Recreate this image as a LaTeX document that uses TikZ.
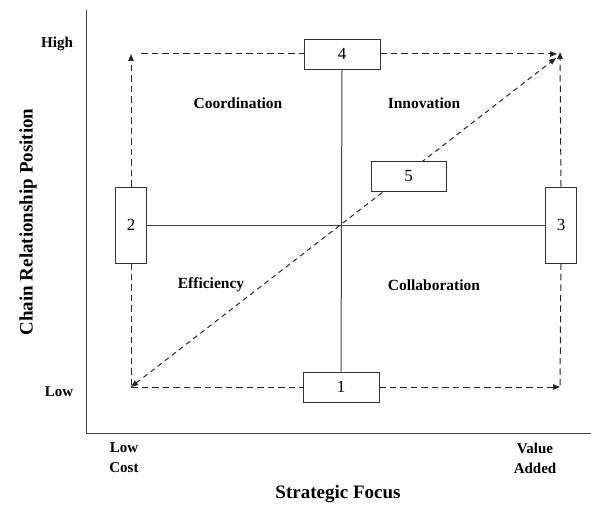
\documentclass[tikz,border=0pt]{standalone}
\usepackage{fontspec}
\setmainfont{Liberation Serif}
\usetikzlibrary{arrows.meta}
\begin{document}
\begin{tikzpicture}[x=1pt,y=-1pt,
  numbox/.style={draw=black!80,line width=0.9pt,fill=white,inner sep=0pt,font=\fontsize{17}{19}\selectfont},
  hbox/.style={numbox,minimum width=76pt,minimum height=30pt},
  vbox/.style={numbox,minimum width=31pt,minimum height=76pt},
  flow/.style={dashed,dash pattern=on 6.5pt off 4pt,line width=1pt,black!85},
  tip/.style={-{Triangle[length=7pt,width=5.5pt]}},
  solidln/.style={line width=1pt,black!75},
  lbl/.style={font=\fontsize{15.5}{18}\selectfont\bfseries},
  ttl/.style={font=\fontsize{19}{22}\selectfont\bfseries},
  tick/.style={font=\fontsize{15}{20}\selectfont\bfseries,align=center}]
\useasboundingbox (0,0) rectangle (591,508);
% axes
\coordinate (ytop) at (86,10);
\coordinate (org) at (86,433);
\coordinate (xend) at (591,433);
\draw[line width=1pt,black!75] (ytop) -- (org) -- (xend);
% corners
\coordinate (tl) at (131,54);
\coordinate (tr) at (560,54);
\coordinate (bl) at (131,387);
\coordinate (br) at (560,387);
% solid cross
\node[hbox] (n4) at (342,54) {4};
\node[hbox] (n1) at (341,387) {1};
\node[vbox] (n2) at (131,225) {2};
\node[vbox] (n3) at (561,225) {3};
\draw[solidln] (n4.south) -- (n1.north);
\draw[solidln] (n2.east) -- (n3.west);
% dashed flows
\draw[flow,tip] (n2.north) -- (tl);
\draw[flow] (tl) ++(10,0) -- (n4.west);
\draw[flow,tip] (n4.east) -- ([xshift=-3pt]tr);
\draw[flow,tip] (n3.north) -- ([yshift=2pt]tr);
\draw[flow] (n2.south) -- (bl);
\draw[flow] (bl) -- (n1.west);
\draw[flow,tip] (n1.east) -- (br);
\draw[flow] (n3.south) -- (br);
\coordinate (dA) at (131,387);
\coordinate (dB) at (556,58);
\draw[flow,{Triangle[length=7pt,width=5.5pt]}-{Triangle[length=7pt,width=5.5pt]},dash pattern=on 5pt off 4pt] (dA) -- (dB);
\node[hbox,minimum width=75pt] (n5) at (408.5,176) {5};
% labels
\node[lbl] (coord) at (238,103) {Coordination};
\node[lbl] (innov) at (424,103) {Innovation};
\node[lbl] (eff) at (211,285) {Efficiency};
\node[lbl] (coll) at (434,285) {Collaboration};
\node[tick] (high) at (57,44) {High};
\node[tick] (low) at (59,392) {Low};
\node[tick] (lowcost) at (124,458) {Low\\Cost};
\node[tick] (valadd) at (535,458) {Value\\Added};
\node[ttl] (xt) at (338,494) {Strategic Focus};
\node[ttl,rotate=90] (yt) at (28,222) {Chain Relationship Position};
\end{tikzpicture}
\end{document}
